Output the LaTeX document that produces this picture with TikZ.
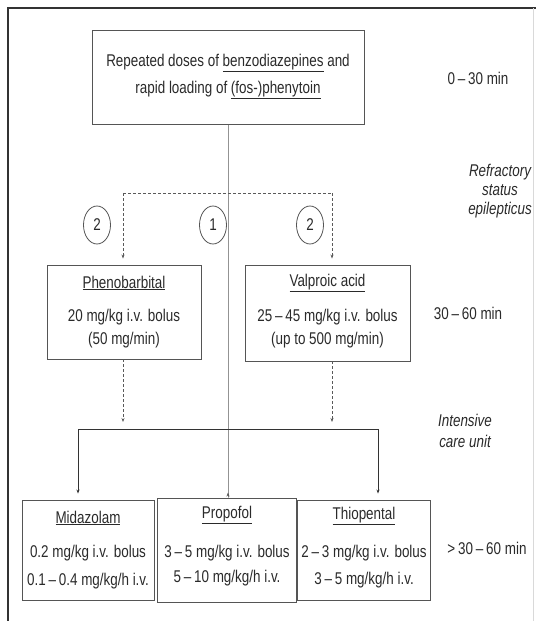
\documentclass[tikz,border=0pt]{standalone}
\usepackage{fontspec}
\setmainfont{Liberation Sans}[FakeStretch=0.79]
\usetikzlibrary{arrows.meta,shapes.geometric}
\definecolor{ink}{HTML}{2A2A2A}
\definecolor{frame}{HTML}{555555}
\begin{document}
\begin{tikzpicture}[x=1pt,y=-1pt,
  font=\fontsize{17}{20}\selectfont,
  box/.style={draw=frame, line width=0.9pt, rectangle, inner sep=0pt},
  txt/.style={text=ink, inner sep=0pt},
  side/.style={text=ink, inner sep=0pt, align=center},
  num/.style={draw=frame, line width=0.8pt, ellipse, inner sep=0pt, minimum width=27pt, minimum height=38pt, text=ink},
  conn/.style={draw=black!65, line width=0.6pt},
  dsh/.style={conn, dash pattern=on 3pt off 2pt},
  tip/.style={-{Stealth[length=4pt,width=3pt]}}
]
\useasboundingbox (0,0) rectangle (536,621);
% outer frame
\draw[line width=2pt, black!80] (8,621) -- (8,8) -- (536,8);
\draw[line width=0.8pt, black!15] (533,8) -- (533,621);

% boxes
\node[box, minimum width=272pt, minimum height=94pt] (top) at (228,77) {};
\node[box, minimum width=154pt, minimum height=94pt] (pheno) at (124,312) {};
\node[box, minimum width=165pt, minimum height=96pt] (valp) at (327.5,313) {};
\node[box, minimum width=132pt, minimum height=100pt] (mida) at (88,550) {};
\node[box, minimum width=139pt, minimum height=104pt] (prop) at (227,550) {};
\node[box, minimum width=133pt, minimum height=100pt] (thio) at (364,550) {};

% texts in boxes
\node[txt] (t1) at (228,63) {Repeated doses of \underline{benzodiazepines} and};
\node[txt] (t2) at (228,90) {rapid loading of \underline{(fos-)phenytoin}};

\node[txt] (p1) at (124,283) {\underline{Phenobarbital}};
\node[txt] (p2) at (124,317) {20 mg/kg i.v. bolus};
\node[txt] (p3) at (124,340) {(50 mg/min)};

\node[txt] (v1) at (327.5,283) {\underline{Valproic acid}};
\node[txt] (v2) at (327.5,317) {25\,–\,45 mg/kg i.v. bolus};
\node[txt] (v3) at (327.5,340) {(up to 500 mg/min)};

\node[txt] (m1) at (88,518) {\underline{Midazolam}};
\node[txt] (m2) at (88,553) {0.2 mg/kg i.v. bolus};
\node[txt] (m3) at (88,581) {0.1\,–\,0.4 mg/kg/h i.v.};

\node[txt] (r1) at (227,515) {\underline{Propofol}};
\node[txt] (r2) at (227,553) {3\,–\,5 mg/kg i.v. bolus};
\node[txt] (r3) at (227,578) {5\,–\,10 mg/kg/h i.v.};

\node[txt] (h1) at (364,516) {\underline{Thiopental}};
\node[txt] (h2) at (364,553) {2\,–\,3 mg/kg i.v. bolus};
\node[txt] (h3) at (364,580) {3\,–\,5 mg/kg/h i.v.};

% numbered circles
\node[num] (c2l) at (97,225) {2};
\node[num] (c1) at (213,225) {1};
\node[num] (c2r) at (310,225) {2};

% side labels
\node[side] (s1) at (478,78) {0\,–\,30 min};
\node[side, font=\fontsize{17}{19}\selectfont\itshape] (s2) at (500,191) {Refractory\\status\\epilepticus};
\node[side] (s3) at (468,313) {30\,–\,60 min};
\node[side, font=\fontsize{17}{21}\selectfont\itshape] (s4) at (465,431) {Intensive\\care unit};
\node[side] (s5) at (487,548) {>\,30\,–\,60 min};

% coordinates
\coordinate (dl) at (123,193);
\coordinate (dr) at (332,193);
\coordinate (hl) at (78,429);
\coordinate (hr) at (378,429);
\coordinate (pl) at (123,422);
\coordinate (pr) at (332,422);

% connectors
\draw[conn, tip] (top.south) -- (top.south |- prop.north) -- ++(0,-5);
\draw[dsh] (dl) -- (dr);
\draw[dsh, tip, shorten >=6pt] (dl) -- (dl |- pheno.north);
\draw[dsh, tip, shorten >=6pt] (dr) -- (dr |- valp.north);
\draw[dsh, tip] (dl |- pheno.south) -- (pl);
\draw[dsh, tip] (dr |- valp.south) -- (pr);
\draw[conn, line width=0.9pt, black!80] (hl) -- (hr);
\draw[conn, line width=0.9pt, black!80, tip, shorten >=6pt] (hl) -- (hl |- mida.north);
\draw[conn, line width=0.9pt, black!80, tip, shorten >=6pt] (hr) -- (hr |- thio.north);
\end{tikzpicture}
\end{document}
